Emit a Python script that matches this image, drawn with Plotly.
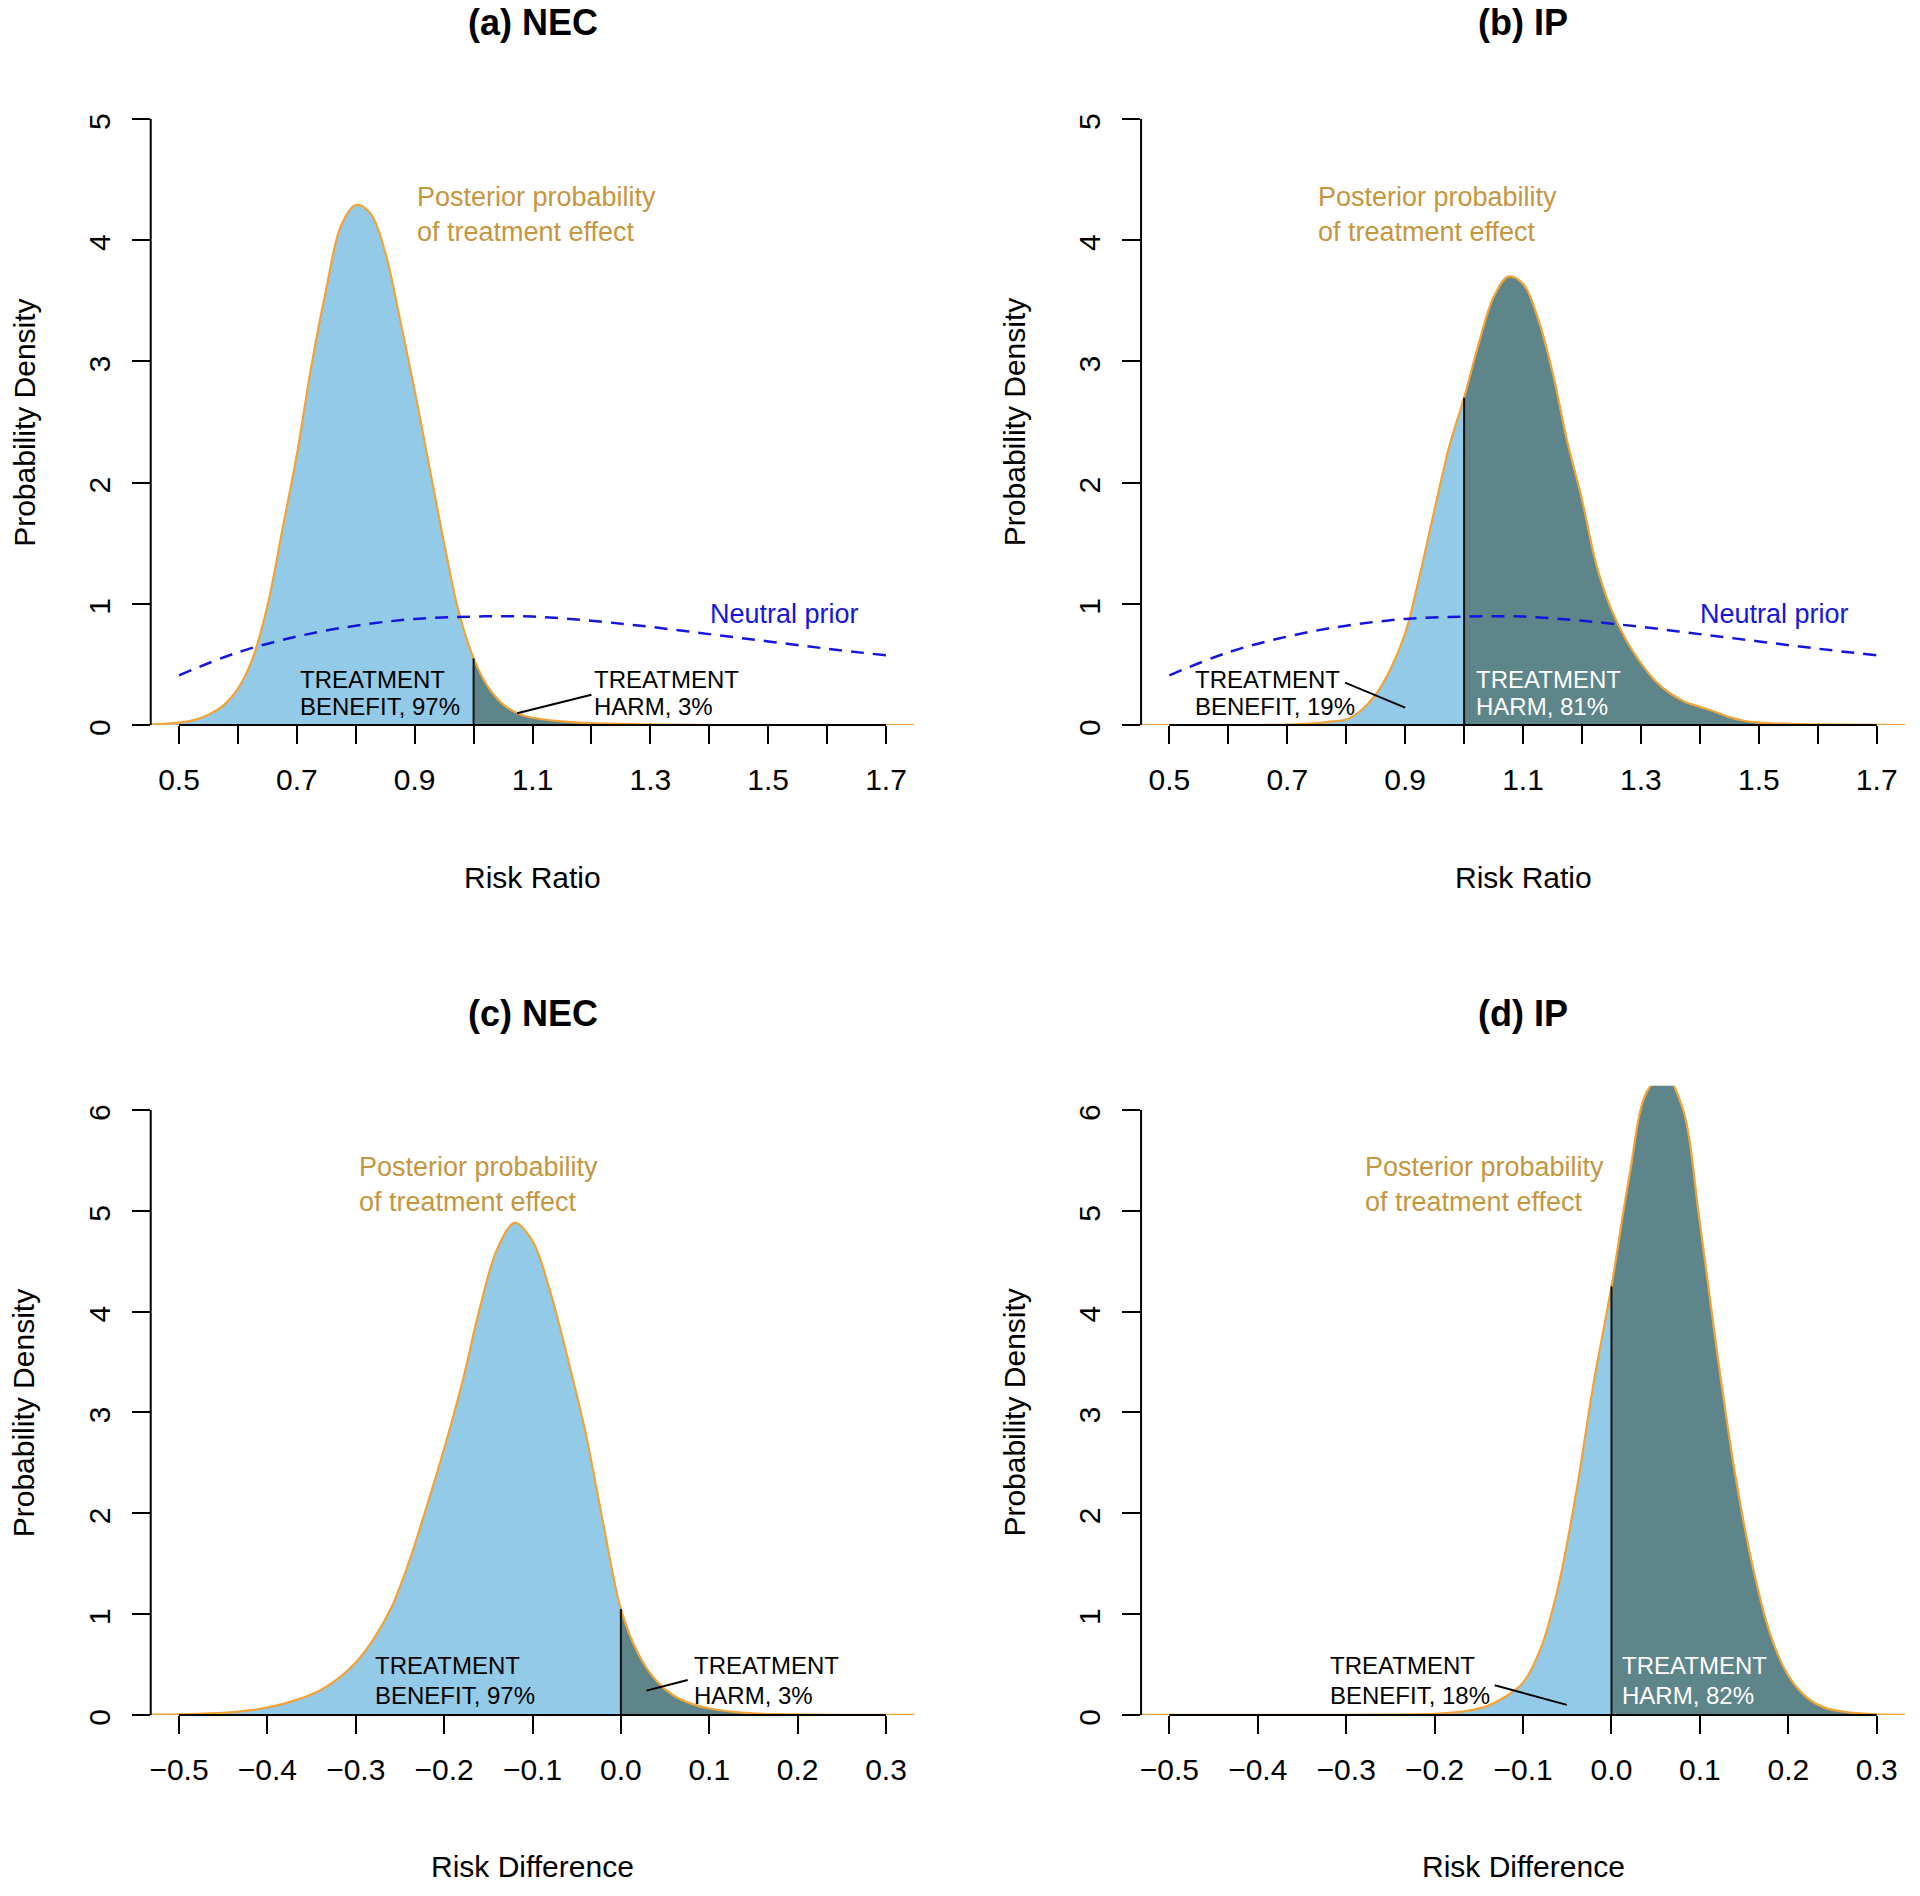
import plotly.graph_objects as go

FONT = "Liberation Sans, Arial, Helvetica, sans-serif"

# ---------------- data ----------------
# (a) NEC, risk ratio posterior
a_x = [0.45, 0.475, 0.5, 0.525, 0.55, 0.575, 0.6, 0.625, 0.65, 0.675, 0.7, 0.725, 0.75, 0.775, 0.8,
       0.825, 0.85, 0.875, 0.9, 0.925, 0.95, 0.975, 1.0, 1.025, 1.05, 1.075, 1.1, 1.15, 1.2, 1.3,
       1.4, 1.75]
a_y = [0.005, 0.01, 0.02, 0.04, 0.085, 0.16, 0.30, 0.55, 0.98, 1.60, 2.23, 2.97, 3.60, 4.12, 4.29,
       4.22, 3.90, 3.35, 2.76, 2.13, 1.50, 0.93, 0.55, 0.31, 0.17, 0.095, 0.06, 0.03, 0.015, 0.005,
       0.0, 0.0]
# (b) IP, risk ratio posterior
b_x = [0.45, 0.7, 0.75, 0.775, 0.8, 0.825, 0.85, 0.875, 0.9, 0.925, 0.95, 0.975, 1.0, 1.025, 1.05,
       1.075, 1.1, 1.125, 1.15, 1.175, 1.2, 1.225, 1.25, 1.275, 1.3, 1.325, 1.35, 1.375, 1.4, 1.425,
       1.45, 1.475, 1.5, 1.55, 1.6, 1.75]
b_y = [0.0, 0.003, 0.015, 0.03, 0.045, 0.12, 0.25, 0.46, 0.757, 1.24, 1.78, 2.30, 2.70, 3.15, 3.53,
       3.70, 3.64, 3.36, 2.91, 2.34, 1.86, 1.31, 0.95, 0.70, 0.51, 0.36, 0.26, 0.19, 0.15, 0.11,
       0.065, 0.035, 0.02, 0.01, 0.005, 0.0]
# (c) NEC, risk difference posterior
c_x = [-0.535, -0.5, -0.45, -0.42, -0.4, -0.38, -0.36, -0.34, -0.32, -0.3, -0.28, -0.26, -0.24, -0.22,
       -0.2, -0.18, -0.16, -0.14, -0.12, -0.1, -0.08, -0.06, -0.04, -0.02, 0.0, 0.02, 0.04, 0.06,
       0.08, 0.1, 0.14, 0.2, 0.335]
c_y = [0.003, 0.007, 0.02, 0.045, 0.074, 0.115, 0.17, 0.245, 0.36, 0.52, 0.75, 1.06, 1.51, 2.06,
       2.64, 3.28, 4.02, 4.62, 4.88, 4.70, 4.20, 3.53, 2.80, 1.90, 1.05, 0.60, 0.34, 0.19,
       0.11, 0.064, 0.02, 0.005, 0.0]
# (d) IP, risk difference posterior
d_x = [-0.535, -0.3, -0.2, -0.18, -0.16, -0.14, -0.12, -0.1, -0.08, -0.06, -0.04, -0.02, 0.0, 0.02,
       0.04, 0.06, 0.08, 0.1, 0.12, 0.14, 0.16, 0.18, 0.2, 0.22, 0.24, 0.26, 0.28, 0.3, 0.335]
d_y = [0.0, 0.002, 0.01, 0.022, 0.045, 0.09, 0.18, 0.32, 0.66, 1.28, 2.20, 3.30, 4.25, 5.33,
       6.18, 6.35, 6.03, 4.88, 3.56, 2.38, 1.46, 0.79, 0.39, 0.18, 0.075, 0.035, 0.015, 0.005, 0.0]

# neutral prior (panels a and b)
prior_x = [0.5, 0.6, 0.7, 0.8, 0.9, 1.0, 1.1, 1.2, 1.3, 1.4, 1.5, 1.6, 1.7]
prior_y = [0.41, 0.60, 0.73, 0.82, 0.875, 0.895, 0.895, 0.86, 0.81, 0.75, 0.69, 0.63, 0.575]

# axes
rr_ticks = [0.5, 0.6, 0.7, 0.8, 0.9, 1.0, 1.1, 1.2, 1.3, 1.4, 1.5, 1.6, 1.7]
rr_labels = ["0.5", "", "0.7", "", "0.9", "", "1.1", "", "1.3", "", "1.5", "", "1.7"]
rd_ticks = [-0.5, -0.4, -0.3, -0.2, -0.1, 0.0, 0.1, 0.2, 0.3]
rd_labels = ["\u22120.5", "\u22120.4", "\u22120.3", "\u22120.2", "\u22120.1", "0.0", "0.1", "0.2", "0.3"]
dens_ticks_rr = [0, 1, 2, 3, 4, 5]
dens_ticks_rd = [0, 1, 2, 3, 4, 5, 6]

titles = ["(a) NEC", "(b) IP", "(c) NEC", "(d) IP"]
benefit_lines = [("TREATMENT", "BENEFIT, 97%"), ("TREATMENT", "BENEFIT, 19%"),
                 ("TREATMENT", "BENEFIT, 97%"), ("TREATMENT", "BENEFIT, 18%")]
harm_lines = [("TREATMENT", "HARM, 3%"), ("TREATMENT", "HARM, 81%"),
              ("TREATMENT", "HARM, 3%"), ("TREATMENT", "HARM, 82%")]

# ---------------- styles ----------------
LIGHT = "#92CAE8"
DARK = "#5E8589"
ORANGE = "#F2A338"
GOLD = "#C6963F"
BLUE = "#1515E0"

panels = [
    dict(x=a_x, y=a_y, thr=1.0, xr=[0.452, 1.748], yr=[0, 5.2], ticks=rr_ticks, labels=rr_labels,
         yt=dens_ticks_rr, prior=True, xt="Risk Ratio",
         dom_x=[0.0785, 0.4762], dom_y=[0.6176, 0.95],
         post=(0.90, 4.21), ben=0.702, harm=1.201, lab_y=(0.375, 0.149), harm_white=False,
         ptr=((1.074, 0.097), (1.200, 0.25))),
    dict(x=b_x, y=b_y, thr=1.0, xr=[0.452, 1.748], yr=[0, 5.2], ticks=rr_ticks, labels=rr_labels,
         yt=dens_ticks_rr, prior=True, xt="Risk Ratio",
         dom_x=[0.5943, 0.9922], dom_y=[0.6176, 0.95],
         post=(0.749, 4.21), ben=0.540, harm=1.017, lab_y=(0.375, 0.149), harm_white=True,
         ptr=((0.798, 0.35), (0.900, 0.143))),
    dict(x=c_x, y=c_y, thr=0.0, xr=[-0.532, 0.332], yr=[0, 6.24], ticks=rd_ticks, labels=rd_labels,
         yt=dens_ticks_rd, prior=False, xt="Risk Difference",
         dom_x=[0.0785, 0.4762], dom_y=[0.0955, 0.4273],
         post=(-0.299, 5.26), ben=-0.280, harm=0.0805, lab_y=(0.489, 0.193), harm_white=False,
         ptr=((0.029, 0.241), (0.0756, 0.347))),
    dict(x=d_x, y=d_y, thr=0.0, xr=[-0.532, 0.332], yr=[0, 6.24], ticks=rd_ticks, labels=rd_labels,
         yt=dens_ticks_rd, prior=False, xt="Risk Difference",
         dom_x=[0.5943, 0.9922], dom_y=[0.0955, 0.4273],
         post=(-0.281, 5.26), ben=-0.321, harm=0.0098, lab_y=(0.489, 0.193), harm_white=True,
         ptr=((-0.132, 0.295), (-0.0505, 0.10))),
]

fig = go.Figure()
layout = dict(width=1920, height=1896, margin=dict(l=0, r=0, t=0, b=0),
              paper_bgcolor="white", plot_bgcolor="white", showlegend=False,
              font=dict(family=FONT, color="black"))
annotations = []
shapes = []
SPL = dict(shape="spline", smoothing=1.0)

for i, p in enumerate(panels):
    n = "" if i == 0 else str(i + 1)
    xa, ya = "x" + n, "y" + n
    xs, ys, thr = p["x"], p["y"], p["thr"]
    bx = [x for x in xs if x <= thr]
    by = [y for x, y in zip(xs, ys) if x <= thr]
    hx = [x for x in xs if x >= thr]
    hy = [y for x, y in zip(xs, ys) if x >= thr]
    thr_val = ys[xs.index(thr)]

    fig.add_trace(go.Scatter(x=bx, y=by, xaxis=xa, yaxis=ya, mode="lines", fill="tozeroy",
                             fillcolor=LIGHT, line=dict(width=0, **SPL), hoverinfo="skip"))
    fig.add_trace(go.Scatter(x=hx, y=hy, xaxis=xa, yaxis=ya, mode="lines", fill="tozeroy",
                             fillcolor=DARK, line=dict(width=0, **SPL), hoverinfo="skip"))
    fig.add_trace(go.Scatter(x=xs, y=ys, xaxis=xa, yaxis=ya, mode="lines",
                             line=dict(color=ORANGE, width=2.2, **SPL)))
    fig.add_trace(go.Scatter(x=[thr, thr], y=[0, thr_val], xaxis=xa, yaxis=ya, mode="lines",
                             line=dict(color="#111111", width=2)))
    if p["prior"]:
        fig.add_trace(go.Scatter(x=prior_x, y=prior_y, xaxis=xa, yaxis=ya, mode="lines",
                                 line=dict(color=BLUE, width=2.5, dash="13px,9px", shape="spline")))
        annotations.append(dict(x=1.527, y=0.92, xref=xa, yref=ya, text="Neutral prior",
                                showarrow=False, xanchor="center", yanchor="middle",
                                font=dict(size=27, color=BLUE, family=FONT)))

    xmin, xmax = p["xr"]
    ymin, ymax = p["yr"]
    layout["xaxis" + n] = dict(domain=p["dom_x"], range=p["xr"], anchor=ya, tickmode="array",
                               tickvals=p["ticks"], ticktext=p["labels"], ticks="outside",
                               ticklen=18, tickwidth=2, tickcolor="black", showline=False,
                               showgrid=False, zeroline=False, ticklabelstandoff=10,
                               automargin=False,
                               tickfont=dict(size=30, color="black", family=FONT))
    layout["yaxis" + n] = dict(domain=p["dom_y"], range=p["yr"], anchor=xa, tickmode="array",
                               tickvals=p["yt"], ticktext=[str(v) for v in p["yt"]],
                               ticks="outside", ticklen=18, tickwidth=2, tickcolor="black",
                               tickangle=-90, showline=False, showgrid=False, zeroline=False,
                               ticklabelstandoff=10, ticklabelshift=7, automargin=False,
                               tickfont=dict(size=30, color="black", family=FONT))
    # axis lines spanning the tick range only (as in R)
    shapes.append(dict(type="line", xref=xa + " domain", yref=ya + " domain",
                       x0=(p["ticks"][0] - xmin) / (xmax - xmin),
                       x1=(p["ticks"][-1] - xmin) / (xmax - xmin), y0=0, y1=0,
                       line=dict(color="black", width=2)))
    shapes.append(dict(type="line", xref=xa + " domain", yref=ya + " domain", x0=0, x1=0,
                       y0=(p["yt"][0] - ymin) / (ymax - ymin), y1=(p["yt"][-1] - ymin) / (ymax - ymin),
                       line=dict(color="black", width=2)))
    # pointer line
    (px0, py0), (px1, py1) = p["ptr"]
    shapes.append(dict(type="line", xref=xa, yref=ya, x0=px0, y0=py0, x1=px1, y1=py1,
                       line=dict(color="black", width=2)))

    # texts
    annotations.append(dict(x=p["post"][0], y=p["post"][1], xref=xa, yref=ya,
                            text="Posterior probability<br>of treatment effect", showarrow=False,
                            xanchor="left", yanchor="middle", align="left",
                            font=dict(size=27, color=GOLD, family=FONT)))
    for k in range(2):
        annotations.append(dict(x=p["ben"], y=p["lab_y"][k], xref=xa, yref=ya,
                                text=benefit_lines[i][k], showarrow=False,
                                xanchor="left", yanchor="middle",
                                font=dict(size=24, color="black", family=FONT)))
        annotations.append(dict(x=p["harm"], y=p["lab_y"][k], xref=xa, yref=ya,
                                text=harm_lines[i][k], showarrow=False,
                                xanchor="left", yanchor="middle",
                                font=dict(size=24, color="white" if p["harm_white"] else "black",
                                          family=FONT)))
    # panel title and axis titles
    cx = (p["dom_x"][0] + p["dom_x"][1]) / 2
    top = p["dom_y"][1]
    annotations.append(dict(x=cx, y=top + 0.0379, xref="paper", yref="paper",
                            text="<b>" + titles[i] + "</b>", showarrow=False,
                            xanchor="center", yanchor="middle",
                            font=dict(size=36, color="black", family=FONT)))
    annotations.append(dict(x=cx, y=p["dom_y"][0] - 0.0802, xref="paper", yref="paper",
                            text=p["xt"], showarrow=False, xanchor="center", yanchor="middle",
                            font=dict(size=30, color="black", family=FONT)))
    ymid = (p["dom_y"][0] + p["dom_y"][1]) / 2 - 0.0066
    annotations.append(dict(x=p["dom_x"][0] - 0.0658, y=ymid, xref="paper", yref="paper",
                            text="Probability Density", showarrow=False, textangle=-90,
                            xanchor="center", yanchor="middle",
                            font=dict(size=30, color="black", family=FONT)))

layout["annotations"] = annotations
layout["shapes"] = shapes
fig.update_layout(**layout)
fig.write_html(
    "out.html", config={"displayModeBar": False, "responsive": False},
    post_script=("var h=document.documentElement, b=document.body;"
                 "h.style.margin='0'; b.style.margin='0';"
                 "h.style.overflow='hidden'; b.style.overflow='hidden';"
                 "h.style.height='1896px'; b.style.height='1896px';"
                 "var d=document.getElementById('{plot_id}');"
                 "d.style.position='absolute'; d.style.left='0px'; d.style.top='0px';"))
